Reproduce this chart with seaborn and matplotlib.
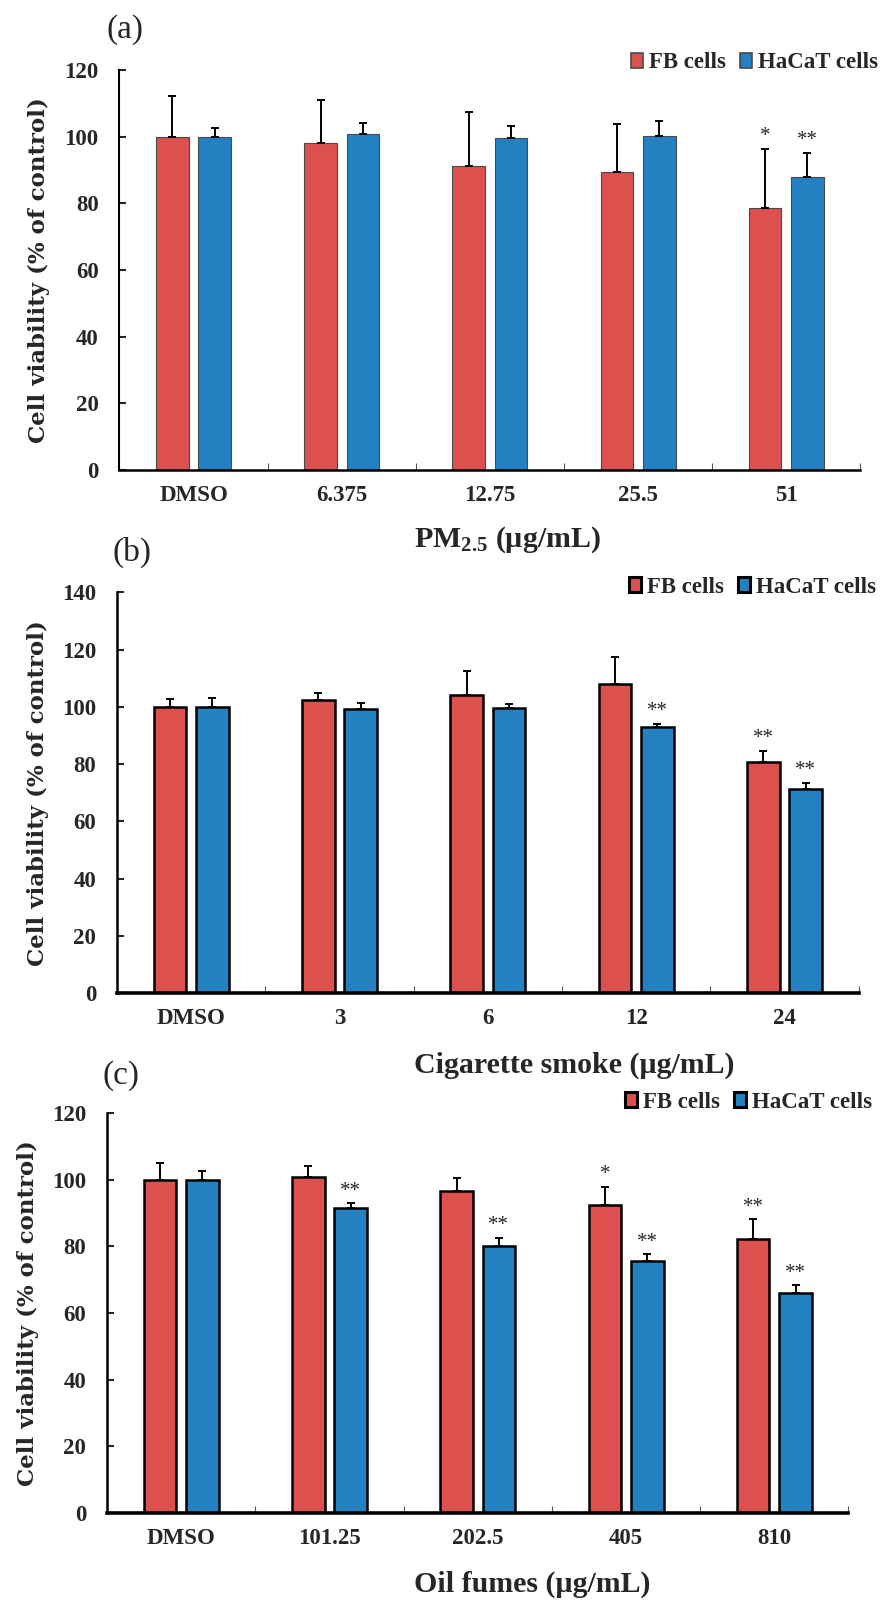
import numpy as np
import pandas as pd
import matplotlib
matplotlib.use("Agg")
import matplotlib.pyplot as plt
from matplotlib.patches import Patch
from matplotlib.container import BarContainer
from matplotlib.ticker import FixedLocator, MultipleLocator
import seaborn as sns

# ---------------- data ----------------
cells = ["FB cells", "HaCaT cells"]

conc_a = ["DMSO", "6.375", "12.75", "25.5", "51"]
fb_a = [100.0, 98.0, 91.3, 89.5, 78.6]
fb_a_err = [12.1, 12.9, 16.2, 14.4, 17.8]
hacat_a = [100.0, 100.9, 99.7, 100.1, 88.0]
hacat_a_err = [2.7, 3.1, 3.5, 4.5, 7.1]
fb_a_sig = ["", "", "", "", "*"]
hacat_a_sig = ["", "", "", "", "**"]

conc_b = ["DMSO", "3", "6", "12", "24"]
fb_b = [100.0, 102.3, 104.0, 108.0, 80.9]
fb_b_err = [2.6, 2.4, 8.5, 9.4, 3.6]
hacat_b = [100.0, 99.4, 99.7, 93.0, 71.2]
hacat_b_err = [3.1, 2.1, 1.4, 1.0, 2.3]
fb_b_sig = ["", "", "", "", "**"]
hacat_b_sig = ["", "", "", "**", "**"]

conc_c = ["DMSO", "101.25", "202.5", "405", "810"]
fb_c = [100.0, 100.7, 96.6, 92.4, 82.1]
fb_c_err = [4.9, 3.3, 3.8, 5.5, 6.0]
hacat_c = [100.0, 91.4, 80.0, 75.5, 66.1]
hacat_c_err = [2.6, 1.5, 2.6, 2.1, 2.2]
fb_c_sig = ["", "", "", "*", "**"]
hacat_c_sig = ["", "**", "**", "**", "**"]

xlabels = [r"PM$_{\mathbf{2.5}}$ (µg/mL)", "Cigarette smoke (µg/mL)", "Oil fumes (µg/mL)"]
panel_tags = ["(a)", "(b)", "(c)"]
ylims = [120, 140, 120]
ylabel = "Cell viability (% of control)"

RED = "#DC504E"
BLUE = "#2381C2"

# ---------------- style ----------------
sns.set_style("white")
plt.rcParams["font.family"] = ["Liberation Serif", "DejaVu Serif"]
plt.rcParams["font.weight"] = "bold"
plt.rcParams["mathtext.fontset"] = "custom"
plt.rcParams["mathtext.rm"] = "Liberation Serif:bold"
plt.rcParams["mathtext.bf"] = "Liberation Serif:bold"
plt.rcParams["mathtext.it"] = "Liberation Serif:bold:italic"

W, H = 883, 1603
fig = plt.figure(figsize=(W / 100, H / 100), dpi=100)

# axes boxes in pixels: left, right, top, bottom
boxes = [(119.4, 860.4, 70, 470), (117, 858.7, 592.4, 993), (107, 848.5, 1113, 1513)]
tag_pos = [(125, 30), (132, 552), (121, 1076)]
xlabel_y = [540, 1065, 1584]
legend_pos = [(878, 63), (876, 587), (872, 1102)]
ylabel_x = [39, 38, 28]

panels = [
    (conc_a, fb_a, fb_a_err, hacat_a, hacat_a_err, fb_a_sig, hacat_a_sig),
    (conc_b, fb_b, fb_b_err, hacat_b, hacat_b_err, fb_b_sig, hacat_b_sig),
    (conc_c, fb_c, fb_c_err, hacat_c, hacat_c_err, fb_c_sig, hacat_c_sig),
]

for i, (conc, fb, fbe, hc, hce, fbs, hcs) in enumerate(panels):
    l, r, t, b = boxes[i]
    ax = fig.add_axes([l / W, 1 - b / H, (r - l) / W, (b - t) / H])
    df = pd.DataFrame({
        "conc": conc * 2,
        "viab": fb + hc,
        "cell": [cells[0]] * len(conc) + [cells[1]] * len(conc),
    })
    thin = (i == 0)
    edgec = "#4a4a4a" if thin else "black"
    elw = 0.8 if thin else 1.8
    sns.barplot(data=df, x="conc", y="viab", hue="cell", order=conc,
                hue_order=cells, palette=[RED, BLUE], width=0.572, gap=0.23,
                errorbar=None, edgecolor=edgec, linewidth=elw, saturation=1,
                legend=False, ax=ax)

    errs = [fbe, hce]
    sigs = [fbs, hcs]
    bar_conts = [c for c in ax.containers if isinstance(c, BarContainer)]
    for k, cont in enumerate(bar_conts):
        xs = [p.get_x() + p.get_width() / 2 for p in cont]
        ys = [p.get_height() for p in cont]
        ax.errorbar(xs, ys, yerr=[np.zeros(len(ys)), errs[k]], fmt="none",
                    ecolor="black", elinewidth=1.4, capsize=3, capthick=1.4,
                    zorder=1)
        for x, y, e, s in zip(xs, ys, errs[k], sigs[k]):
            if s:
                ax.annotate(s, xy=(x, y + e), xytext=(0, 2),
                            textcoords="offset points", ha="center",
                            va="bottom", fontsize=15, fontweight="normal")

    ax.set_xlim(-0.5, len(conc) - 0.5)
    ax.set_ylim(0, ylims[i])
    ax.yaxis.set_major_locator(MultipleLocator(20))
    ax.xaxis.set_minor_locator(FixedLocator(np.arange(0.5, len(conc), 1.0)))
    ax.set_xlabel("")
    ax.set_ylabel("")
    sns.despine(ax=ax)
    ax.spines["left"].set_linewidth(1.5 if thin else 1.8)
    ax.spines["bottom"].set_linewidth(1.8 if thin else 2.6)
    ax.spines["left"].set_color("black")
    ax.spines["bottom"].set_color("black")
    ax.tick_params(axis="y", which="major", direction="in", length=5,
                   width=1.5, pad=15, labelsize=16.5, left=True)
    ax.tick_params(axis="x", which="major", length=0, pad=11, labelsize=16.5)
    ax.tick_params(axis="x", which="minor", direction="in", length=5,
                   width=0.8, color="#555555", bottom=True)
    for lab in ax.get_xticklabels() + ax.get_yticklabels():
        lab.set_fontweight("bold")

    handles = [Patch(facecolor=RED, edgecolor=edgec, linewidth=elw + 0.4),
               Patch(facecolor=BLUE, edgecolor=edgec, linewidth=elw + 0.4)]
    lx, ly = legend_pos[i]
    ax.legend(handles, cells, loc="center right",
              bbox_to_anchor=(lx / W, 1 - ly / H), bbox_transform=fig.transFigure,
              ncol=2, frameon=False, handlelength=0.55,
              handleheight=0.6, handletextpad=0.25, columnspacing=0.6,
              borderpad=0, borderaxespad=0, prop={"weight": "bold", "size": 16.5})

    fig.text(tag_pos[i][0] / W, 1 - tag_pos[i][1] / H, panel_tags[i],
             ha="center", va="center", fontsize=24, fontweight="normal")
    fig.text(414 / W, 1 - xlabel_y[i] / H, xlabels[i], ha="left",
             va="center", fontsize=21.5, fontweight="bold")
    fig.text(ylabel_x[i] / W, 1 - ((t + b) / 2) / H, ylabel, rotation=90,
             ha="center", va="center", fontsize=16.5, fontweight="bold",
             family="DejaVu Serif")

fig.savefig("out.png", dpi=100)
